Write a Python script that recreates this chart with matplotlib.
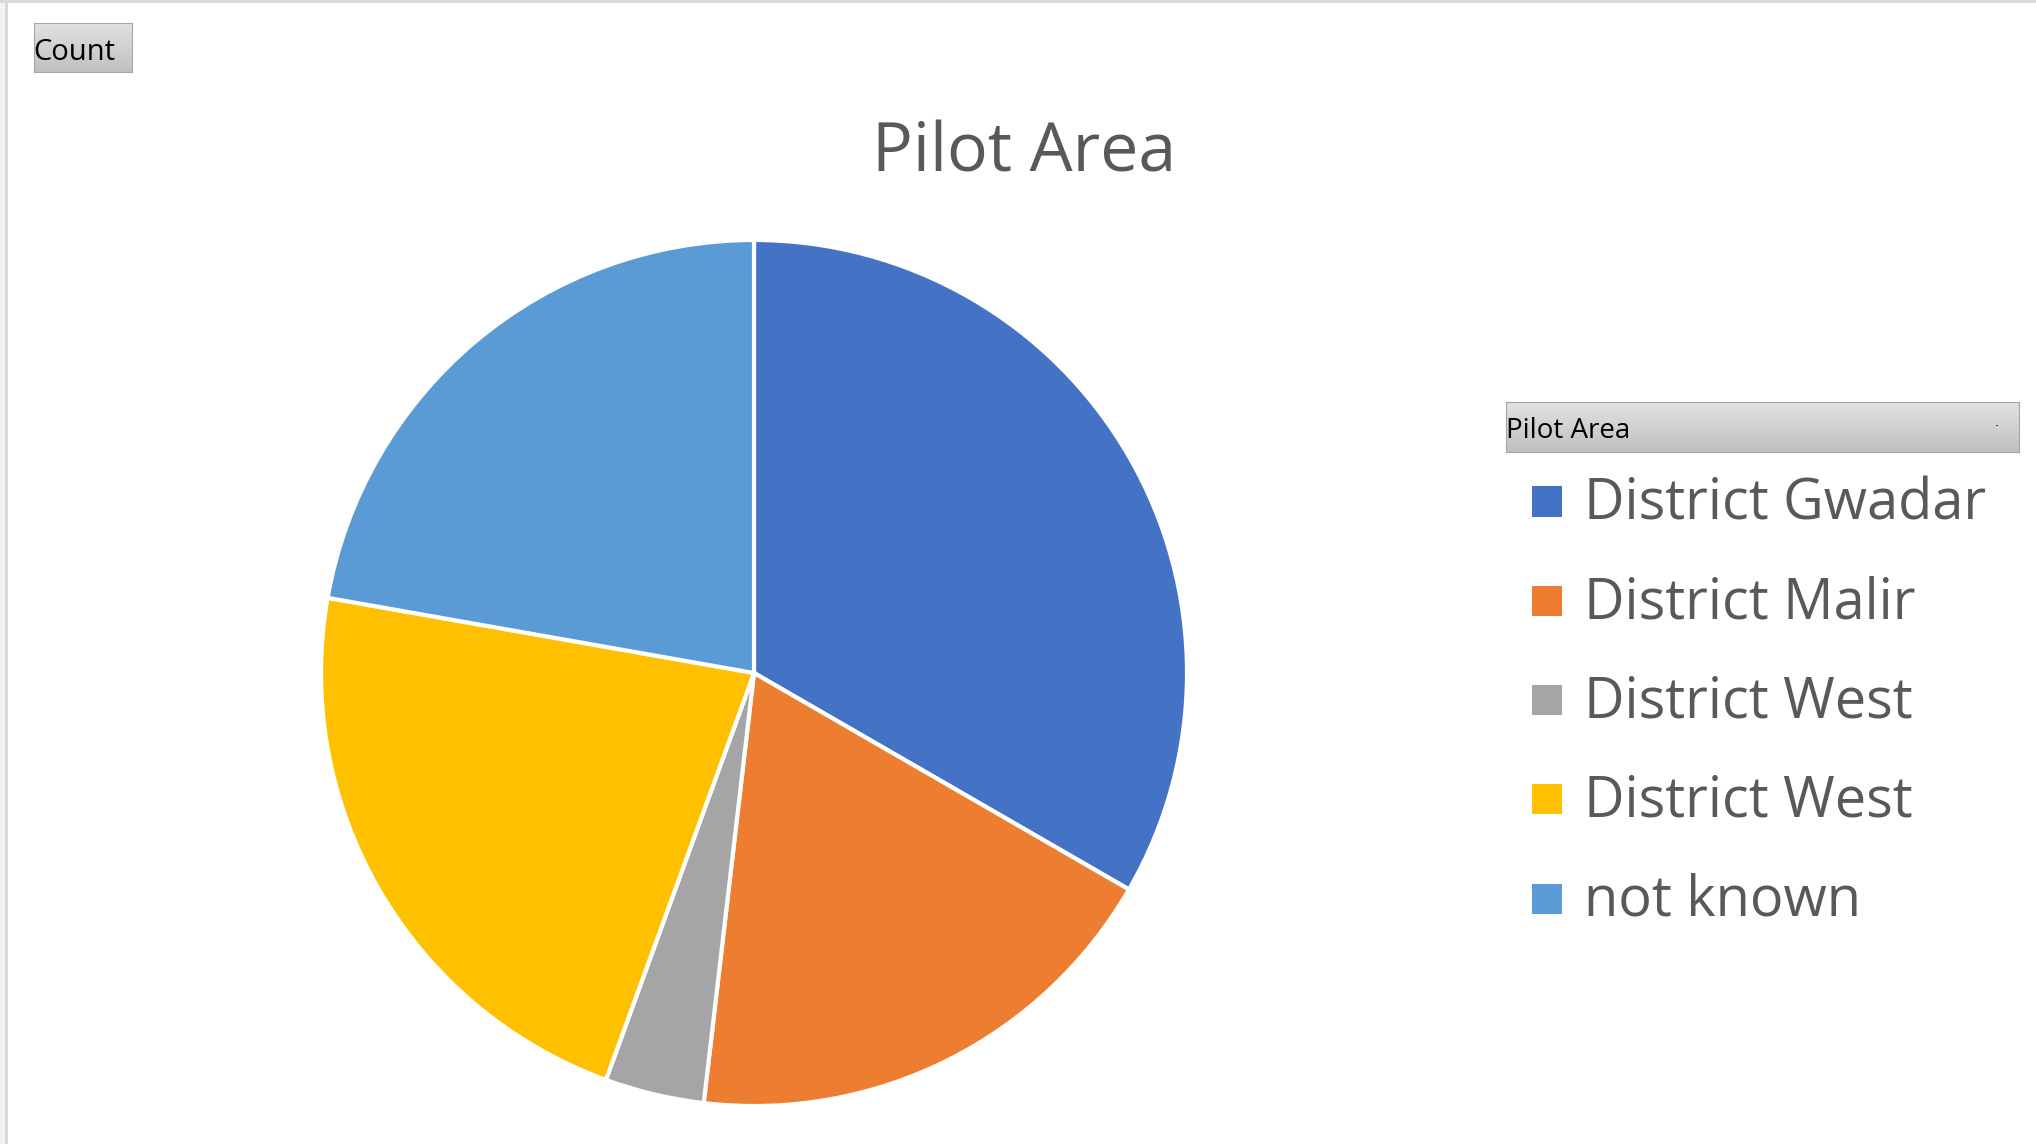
import numpy as np
import matplotlib
matplotlib.use("Agg")
import matplotlib.pyplot as plt
from matplotlib.patches import Rectangle

categories = ["District Gwadar", "District Malir", "District West", "District West", "not known"]
counts = [9, 5, 1, 6, 6]
colors = ["#4472C4", "#ED7D31", "#A5A5A5", "#FFC000", "#5B9BD5"]
title = "Pilot Area"
field_button = "Count"
legend_title = "Pilot Area"

W, H = 2036, 1144
fig = plt.figure(figsize=(W / 100, H / 100), dpi=100)
fig.patch.set_facecolor("white")
FONT = ["Open Sans", "DejaVu Sans"]


def px_rect(x0, y0, x1, y1):
    # pixel coords (top-left origin) -> figure fraction rect
    return [x0 / W, 1 - y1 / H, (x1 - x0) / W, (y1 - y0) / H]


def fx(x):
    return x / W


def fy(y):
    return 1 - y / H


# outer borders
fig.add_artist(Rectangle((0, 0), fx(5), 1, transform=fig.transFigure, color="#f2f2f2", lw=0))
fig.add_artist(Rectangle((fx(5), 0), fx(3), 1, transform=fig.transFigure, color="#d9d9d9", lw=0))
fig.add_artist(Rectangle((0, fy(3)), 1, 3 / H, transform=fig.transFigure, color="#d9d9d9", lw=0))

# pie
cx, cy, r = 754, 673, 433
ax = fig.add_axes(px_rect(cx - r, cy - r, cx + r, cy + r))
wedges, _ = ax.pie(counts, colors=colors, startangle=90, counterclock=False,
                   radius=1.0, wedgeprops=dict(edgecolor="white", linewidth=3))
ax.set_xlim(-1, 1)
ax.set_ylim(-1, 1)
ax.set_aspect("equal")
ax.axis("off")

# title
fig.text(fx(1024), fy(172), title, ha="center", va="baseline", fontsize=49,
         color="#595959", family=FONT)


def gradient_box(x0, y0, x1, y1, top="#e2e2e2", bottom="#c0c0c0", edge="#a6a6a6"):
    bax = fig.add_axes(px_rect(x0, y0, x1, y1))
    t = np.array(matplotlib.colors.to_rgb(top))
    b = np.array(matplotlib.colors.to_rgb(bottom))
    g = np.linspace(0, 1, 64)[:, None, None]
    img = t * (1 - g) + b * g
    img = np.repeat(img, 2, axis=1)
    bax.imshow(img, aspect="auto", extent=(0, 1, 0, 1), origin="upper")
    bax.set_xlim(0, 1)
    bax.set_ylim(0, 1)
    bax.set_xticks([])
    bax.set_yticks([])
    for s in bax.spines.values():
        s.set_color(edge)
        s.set_linewidth(0.8)
    return bax


# Count button
gradient_box(34, 23, 132, 72)
fig.text(fx(33), fy(60), field_button, ha="left", va="baseline", fontsize=21,
         color="black", family=FONT)

# legend header button
gradient_box(1506, 402, 2019, 452)
fig.text(fx(1506), fy(438), legend_title, ha="left", va="baseline", fontsize=20,
         color="black", family=FONT)
fig.add_artist(Rectangle((fx(1996), fy(426)), 2 / W, 1.2 / H, transform=fig.transFigure,
                         color="#404040", lw=0))

# legend entries
y0 = 501.5
pitch = 99.25
for i, (lab, col) in enumerate(zip(categories, colors)):
    yc = y0 + i * pitch
    fig.add_artist(Rectangle((fx(1532), fy(yc + 15)), 30 / W, 30 / H,
                             transform=fig.transFigure, color=col, lw=0))
    fig.text(fx(1584), fy(yc + 17.5), lab, ha="left", va="baseline", fontsize=40.2,
             color="#595959", family=FONT)

fig.savefig("out.png", dpi=100, facecolor="white")
